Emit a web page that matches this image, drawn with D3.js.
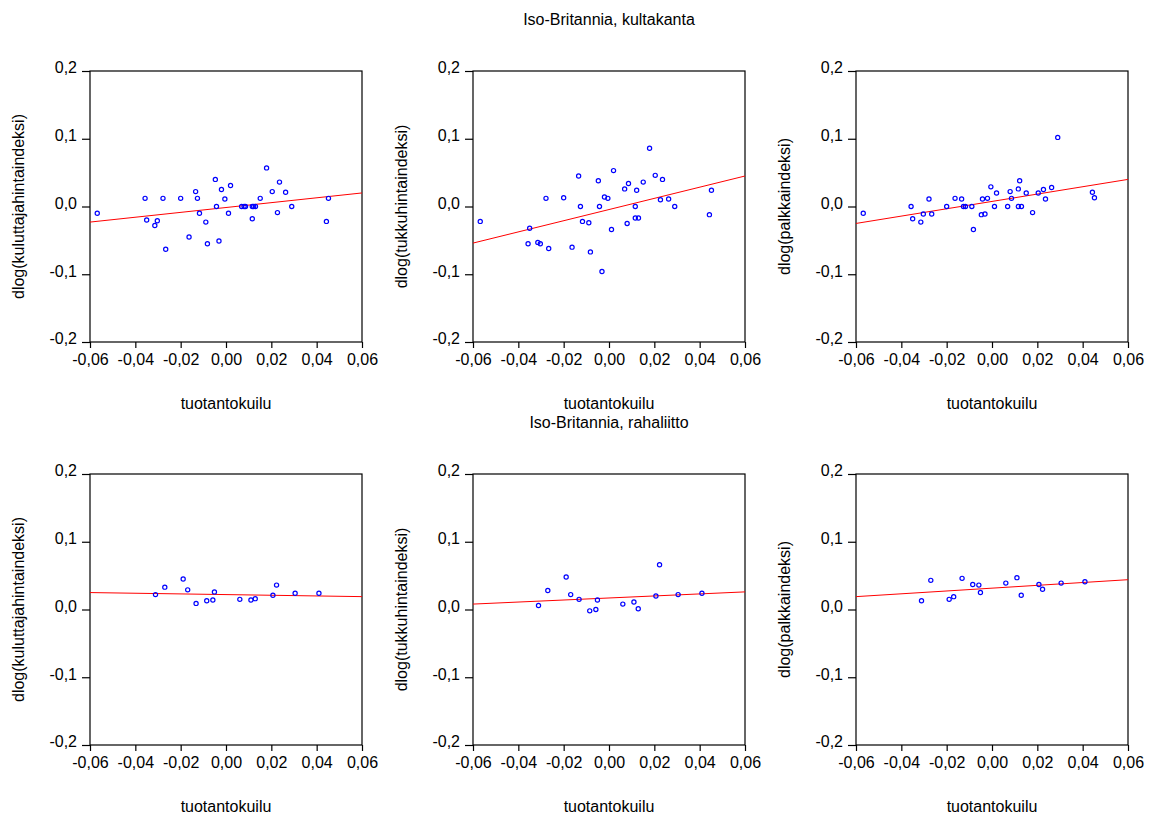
<!DOCTYPE html>
<html>
<head>
<meta charset="utf-8">
<script src="https://cdn.jsdelivr.net/npm/d3@7"></script>
<style>
  body { margin: 0; background: #fff; }
  svg { display: block; }
  text { font-family: "Liberation Sans", Arial, sans-serif; }
</style>
</head>
<body>
<script>
  //data
  //output gap (x) - same for all three panels in a row
  var gapGold = [-0.0568, -0.0357, -0.0350, -0.0314, -0.0303, -0.0278, -0.0266, -0.0200, -0.0163, -0.0134,
                 -0.0126, -0.0117, -0.0089, -0.0082, -0.0047, -0.0042, -0.0031, -0.0020, -0.0005, 0.0011,
                 0.0020, 0.0069, 0.0080, 0.0086, 0.0116, 0.0116, 0.0122, 0.0130, 0.0151, 0.0179,
                 0.0204, 0.0227, 0.0236, 0.0263, 0.0290, 0.0443, 0.0452];
  var cpiGold = [-0.010, 0.012, -0.020, -0.028, -0.021, 0.012, -0.063, 0.012, -0.045, 0.022,
                 0.012, -0.010, -0.023, -0.055, 0.040, 0.000, -0.051, 0.025, 0.011, -0.010,
                 0.031, 0.000, 0.000, 0.000, 0.000, -0.018, 0.000, 0.000, 0.012, 0.057,
                 0.022, -0.009, 0.036, 0.021, 0.000, -0.022, 0.012];
  var ppiGold = [-0.022, -0.055, -0.032, -0.053, -0.055, 0.012, -0.062, 0.013, -0.060, 0.045,
                 0.000, -0.022, -0.024, -0.067, 0.038, 0.000, -0.096, 0.014, 0.012, -0.034,
                 0.053, 0.026, -0.025, 0.034, 0.000, -0.017, 0.024, -0.017, 0.036, 0.086,
                 0.046, 0.010, 0.040, 0.011, 0.000, -0.012, 0.024];
  var wageGold = [-0.010, 0.000, -0.018, -0.023, -0.011, 0.011, -0.011, 0.000, 0.012, 0.011,
                  0.000, 0.000, 0.000, -0.034, -0.012, 0.011, -0.011, 0.012, 0.029, 0.000,
                  0.020, 0.000, 0.022, 0.012, 0.026, 0.000, 0.038, 0.000, 0.020, -0.009,
                  0.020, 0.025, 0.011, 0.028, 0.102, 0.021, 0.013];

  var gapUnion = [-0.0311, -0.0270, -0.0189, -0.0169, -0.0132, -0.0085, -0.0058, -0.0051, 0.0061, 0.0110,
                  0.0129, 0.0207, 0.0223, 0.0305, 0.0410];
  var cpiUnion = [0.022, 0.033, 0.045, 0.029, 0.009, 0.013, 0.014, 0.026, 0.015, 0.014,
                  0.016, 0.021, 0.036, 0.024, 0.024];
  var ppiUnion = [0.006, 0.028, 0.048, 0.022, 0.015, -0.002, 0.000, 0.014, 0.008, 0.011,
                  0.001, 0.020, 0.066, 0.022, 0.024];
  var wageUnion = [0.013, 0.043, 0.015, 0.019, 0.046, 0.037, 0.036, 0.025, 0.039, 0.047,
                   0.021, 0.037, 0.030, 0.039, 0.041];

  //fitted line, y at x=-0.06 and x=0.06
  var fitGold = [[-0.023, 0.020], [-0.054, 0.045], [-0.025, 0.040]];
  var fitUnion = [[0.025, 0.019], [0.008, 0.026], [0.019, 0.044]];

  var xTicks = [-0.06, -0.04, -0.02, 0, 0.02, 0.04, 0.06];
  var yTicks = [-0.2, -0.1, 0, 0.1, 0.2];
  var yLabels = ["dlog(kuluttajahintaindeksi)", "dlog(tukkuhintaindeksi)", "dlog(palkkaindeksi)"];
  var xLabel = "tuotantokuilu";
  var titles = ["Iso-Britannia, kultakanta", "Iso-Britannia, rahaliitto"];

  var widths = 1157,
      heights = 815;

  //layout of the 2x3 grid
  var colLeft = [90, 473, 856],
      rowTop = [71, 474],
      titleY = [25, 428],
      pw = 272,
      ph = 271;

  //finnish style numbers: comma decimal, plain hyphen minus
  var fi = d3.formatLocale({decimal: ",", thousands: " ", grouping: [3], currency: ["", " €"], minus: "-"});

  var svg = d3.select("body").append("svg")
      .attr("width", widths)
      .attr("height", heights);

  svg.append("rect")
      .attr("width", widths)
      .attr("height", heights)
      .attr("fill", "#fff");

  var rows = [
    {gap: gapGold, series: [cpiGold, ppiGold, wageGold], fit: fitGold},
    {gap: gapUnion, series: [cpiUnion, ppiUnion, wageUnion], fit: fitUnion}
  ];

  rows.forEach(function(row, r){
    //row title centred over middle panel
    svg.append("text")
        .attr("x", colLeft[1] + pw / 2)
        .attr("y", titleY[r])
        .attr("text-anchor", "middle")
        .attr("font-size", 16)
        .text(titles[r]);

    row.series.forEach(function(vals, c){
      drawPanel(colLeft[c], rowTop[r], row.gap, vals, row.fit[c], yLabels[c]);
    });
  });

  function drawPanel(left, top, xs, ys, fit, yLab){
    var x = d3.scaleLinear().domain([-0.06, 0.06]).range([0, pw]);
    var y = d3.scaleLinear().domain([-0.2, 0.2]).range([ph, 0]);

    var g = svg.append("g")
        .attr("transform", "translate(" + left + "," + top + ")");

    //axes
    var xAxis = g.append("g")
        .attr("transform", "translate(0," + ph + ")")
        .call(d3.axisBottom(x).tickValues(xTicks).tickSize(6).tickSizeOuter(0).tickPadding(6)
          .tickFormat(fi.format(".2f")));
    var yAxis = g.append("g")
        .call(d3.axisLeft(y).tickValues(yTicks).tickSize(8).tickSizeOuter(0).tickPadding(5)
          .tickFormat(fi.format(".1f")));

    [xAxis, yAxis].forEach(function(a){
      a.select(".domain").remove();
      a.selectAll("line").attr("stroke", "#000").attr("stroke-width", 1.2);
      a.selectAll("text")
          .attr("font-family", "Liberation Sans, Arial, sans-serif")
          .attr("font-size", 16)
          .attr("fill", "#000");
    });
    //y labels sit a bit above the tick in the original
    yAxis.selectAll("text").attr("dy", "0.12em");

    //frame
    g.append("rect")
        .attr("width", pw)
        .attr("height", ph)
        .attr("fill", "none")
        .attr("stroke", "#000")
        .attr("stroke-width", 1.2);

    //regression line
    g.append("line")
        .attr("x1", x(-0.06))
        .attr("y1", y(fit[0]))
        .attr("x2", x(0.06))
        .attr("y2", y(fit[1]))
        .attr("stroke", "#ff0000")
        .attr("stroke-width", 1);

    //points
    g.selectAll(".pt")
        .data(d3.zip(xs, ys))
        .enter()
        .append("circle")
        .attr("class", "pt")
        .attr("cx", function(d){ return x(d[0]); })
        .attr("cy", function(d){ return y(d[1]); })
        .attr("r", 2.1)
        .attr("fill", "none")
        .attr("stroke", "#0000ff")
        .attr("stroke-width", 1.2);

    //axis titles
    g.append("text")
        .attr("x", pw / 2)
        .attr("y", ph + 67)
        .attr("text-anchor", "middle")
        .attr("font-size", 16)
        .text(xLabel);

    g.append("text")
        .attr("transform", "translate(-66," + (ph / 2) + ") rotate(-90)")
        .attr("text-anchor", "middle")
        .attr("font-size", 16)
        .text(yLab);
  }
</script>
</body>
</html>
